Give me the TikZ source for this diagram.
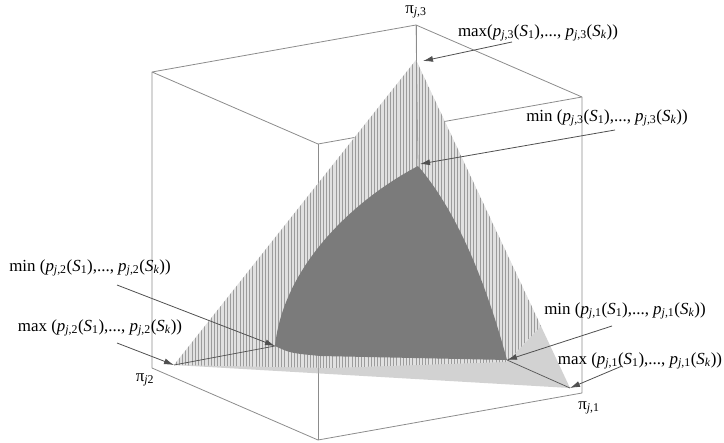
\documentclass[tikz,border=0pt]{standalone}
\usepackage{fontspec}
\setmainfont{Liberation Serif}
\usetikzlibrary{arrows.meta}
\definecolor{edgegray}{HTML}{8C8C8C}
\definecolor{leadgray}{HTML}{505050}
\definecolor{basegray}{HTML}{D2D2D2}
\definecolor{stripegray}{HTML}{9C9C9C}
\definecolor{darkgray}{HTML}{7B7B7B}
\newcommand{\pjx}[1]{\textit{p}\textsubscript{\textit{j},#1}}
\newcommand{\Sx}[1]{\textit{S}\textsubscript{#1}}
\newcommand{\plist}[1]{(\pjx{#1}(\Sx{1}),..., \pjx{#1}(\Sx{\textit{k}}))}
\begin{document}
\begin{tikzpicture}[x=1bp,y=-1bp,
  font=\fontsize{17}{20}\selectfont,
  edge/.style={draw=edgegray, line width=0.8bp},
  leader/.style={draw=leadgray, line width=0.8bp, -{Latex[length=10bp,width=6bp]}},
  joinline/.style={draw=leadgray, line width=0.7bp},
  lbl/.style={inner sep=0pt, anchor=center},
  stripe/.style={draw=stripegray, line width=1bp}]
\useasboundingbox (0,0) rectangle (724,443);
% cube corners
\coordinate (P1) at (582,393);
\coordinate (P2) at (152,368);
\coordinate (P3) at (416,25);
\coordinate (O) at (416,321);
\coordinate (TL) at (152,72);
\coordinate (TF) at (318,144);
\coordinate (TR) at (582,97);
\coordinate (FB) at (318,440);
% max points and min points
\coordinate (A3) at (416,60);
\coordinate (A2) at (174,365);
\coordinate (A1) at (570,388);
\coordinate (B3) at (418,166);
\coordinate (B2) at (275,346);
\coordinate (B1) at (507,360);
% cube edges
\draw[edge] (P3) -- (TL) (P3) -- (TR) (TR) -- (TF) (TF) -- (TL);
\draw[edge] (TL) -- (P2) (TR) -- (P1) (P2) -- (FB) (FB) -- (P1);
\draw[edge] (TF) -- (FB);
\draw[edge] (P3) -- (O);
% simplex region (max)
\fill[basegray] (A3) -- (A2) -- (A1) -- cycle;
\begin{scope}
  \clip (A3) -- (A2) -- (330,368) -- (507,362) -- (541,326) -- cycle;
  \fill[white, opacity=0.35] (A3) -- (A2) -- (A1) -- cycle;
  \foreach \x in {160,163.2,...,560} \draw[stripe] (\x,50) -- (\x,400);
\end{scope}
\draw[edge, draw opacity=0.7] (TF) -- (FB);
\draw[edge, draw opacity=0.7] (P3) -- (B3);
% min region
\fill[darkgray] (B3) .. controls (348,203) and (283,270) .. (B2)
  .. controls (290,353) .. (320,356)
  -- (B1) .. controls (488,290) and (460,215) .. (B3) -- cycle;
% lines from max to min points
\draw[joinline] (A2) -- (B2);
\draw[joinline] (A1) -- (B1);
% axis labels
\node[lbl] (pi3) at (416,12) {π\textsubscript{\textit{j},3}};
\node[lbl] (pi2) at (145,380) {π\textsubscript{\textit{j}2}};
\node[lbl] (pi1) at (589,408) {π\textsubscript{\textit{j},1}};
% value labels
\node[lbl] (max3) at (538,33) {max\plist{3}};
\node[lbl] (min3) at (607,118) {min \plist{3}};
\node[lbl] (min2) at (90,268) {min \plist{2}};
\node[lbl] (max2) at (100,328) {max \plist{2}};
\node[lbl] (min1) at (625,311) {min \plist{1}};
\node[lbl] (max1) at (640,361) {max \plist{1}};
% leader start points
\coordinate (L3a) at (512,42);
\coordinate (L3b) at (615,130);
\coordinate (L2b) at (117,285);
\coordinate (L2a) at (117,343);
\coordinate (L1b) at (612,326);
\coordinate (L1a) at (622,366);
% leaders
\draw[leader] (L3a) -- (423,61);
\draw[leader] (L3b) -- (420,164);
\draw[leader] (L2b) -- (B2);
\draw[leader] (L2a) -- (A2);
\draw[leader] (L1b) -- (B1);
\draw[leader] (L1a) -- (A1);
\end{tikzpicture}
\end{document}
